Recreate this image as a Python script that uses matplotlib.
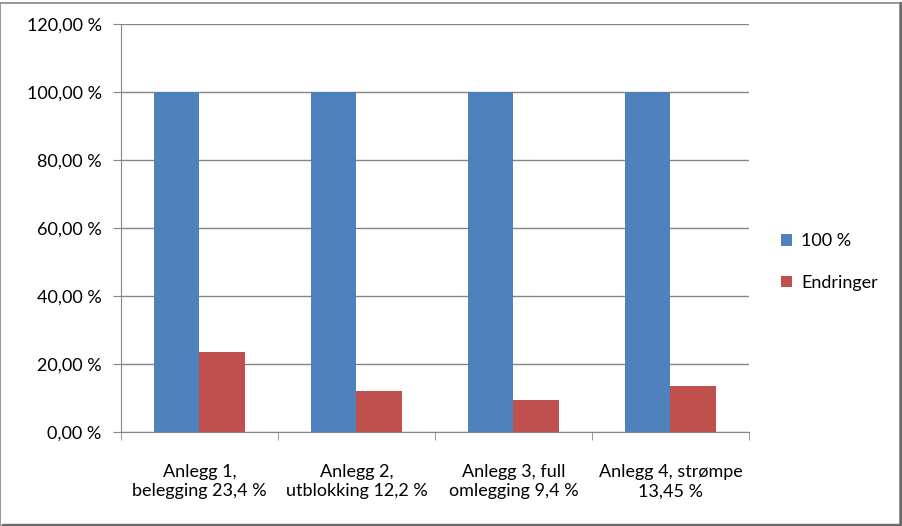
import numpy as np
import matplotlib.pyplot as plt
from matplotlib.patches import Rectangle
from matplotlib.ticker import FixedLocator, FuncFormatter

categories = ['Anlegg 1,\nbelegging 23,4 %', 'Anlegg 2,\nutblokking 12,2 %',
              'Anlegg 3, full\nomlegging 9,4 %', 'Anlegg 4, strømpe\n13,45 %']
full = [100, 100, 100, 100]
endringer = [23.4, 12.2, 9.4, 13.45]
yticks = [0, 20, 40, 60, 80, 100, 120]

plt.rcParams['font.family'] = ['Lato', 'DejaVu Sans']

fig = plt.figure(figsize=(9.03, 5.26), dpi=100)
ax = fig.add_axes([121 / 903, 1 - 432 / 526, 628 / 903, 408 / 526])

x = np.arange(len(categories))
w = 0.287
ax.bar(x - w / 2, full, w, color='#4F81BD', label='100 %', zorder=3)
ax.bar(x + w / 2, endringer, w, color='#C0504D', label='Endringer', zorder=3)

ax.set_xlim(-0.5, len(categories) - 0.5)
ax.set_ylim(0, 120)
ax.set_yticks(yticks)
ax.yaxis.set_major_formatter(FuncFormatter(lambda v, p: f'{v:.2f}'.replace('.', ',') + ' %'))
ax.grid(axis='y', color='#868686', linewidth=1, zorder=0)
ax.set_axisbelow(True)

ax.set_xticks(x)
ax.set_xticklabels(categories, fontsize=13, linespacing=1.25)
ax.xaxis.set_minor_locator(FixedLocator(np.arange(-0.5, len(categories), 1.0)))
ax.tick_params(axis='x', which='major', length=0, pad=23)
ax.tick_params(axis='x', which='minor', length=6, color='#868686')
ax.tick_params(axis='y', length=6, color='#868686', labelsize=13, pad=8)

for s in ['top', 'right']:
    ax.spines[s].set_visible(False)
for s in ['left', 'bottom']:
    ax.spines[s].set_color('#868686')

ax.legend(loc='center left', bbox_to_anchor=(765 / 903, 1 - 262 / 526),
          bbox_transform=fig.transFigure, frameon=False, fontsize=13,
          handlelength=0.6, handleheight=0.6, handletextpad=0.5, labelspacing=1.4)

fig.patches.append(Rectangle((0.5 / 903, 0.5 / 526), 900 / 903, 523 / 526,
                             transform=fig.transFigure, fill=False,
                             edgecolor='#868686', linewidth=1.2))
fig.patches.append(Rectangle((2 / 903, 0), 901 / 903, 2.5 / 526,
                             transform=fig.transFigure, color='#6b6b6b'))
fig.patches.append(Rectangle((900 / 903, 0), 3 / 903, 1 - 2 / 526,
                             transform=fig.transFigure, color='#6b6b6b'))

fig.savefig('out.png', dpi=100)
